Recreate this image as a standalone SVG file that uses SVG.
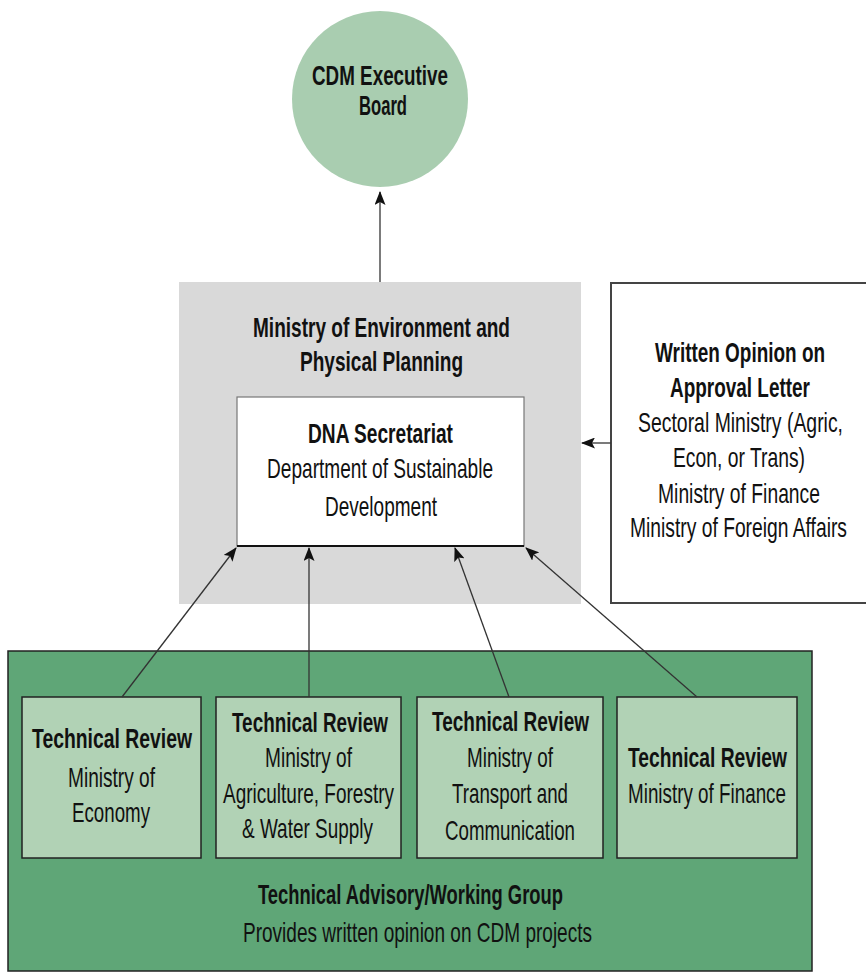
<svg xmlns="http://www.w3.org/2000/svg" width="866" height="974" viewBox="0 0 866 974">
<defs>
<marker id="ah" viewBox="0 0 14 11" refX="13" refY="5.5" markerWidth="14" markerHeight="11" markerUnits="userSpaceOnUse" orient="auto">
<path d="M0,0 L14,5.5 L0,11 L3,5.5 Z" fill="#111"/>
</marker>
<style>
text{font-family:"Liberation Sans",Arial,sans-serif;font-size:28px;fill:#111;text-anchor:middle}
.b{font-weight:bold}
.conn{stroke:#333;stroke-width:1.3;fill:none;marker-end:url(#ah)}
.tr{fill:#B1D2B5;stroke:#222;stroke-width:1.5}
</style>
</defs>
<rect width="866" height="974" fill="#fff"/>

<g id="cdm-board">
<circle cx="380" cy="99" r="88" fill="#A9CDB0"/>
<text class="b" transform="translate(380,0) scale(0.7,1)" x="0" y="85" textLength="194.3" lengthAdjust="spacingAndGlyphs">CDM Executive</text>
<text class="b" transform="translate(383,0) scale(0.7,1)" x="0" y="115" textLength="68.6" lengthAdjust="spacingAndGlyphs">Board</text>
</g>

<g id="ministry-env">
<rect x="179" y="282" width="402" height="322" fill="#D9D9D9"/>
<text class="b" transform="translate(381.5,0) scale(0.7,1)" x="0" y="337" textLength="367.1" lengthAdjust="spacingAndGlyphs">Ministry of Environment and</text>
<text class="b" transform="translate(381.5,0) scale(0.7,1)" x="0" y="371" textLength="232.9" lengthAdjust="spacingAndGlyphs">Physical Planning</text>
</g>

<g id="dna-secretariat">
<rect x="237" y="397" width="287" height="149" fill="#fff" stroke="#777" stroke-width="1.2"/>
<line x1="237" y1="546" x2="524" y2="546" stroke="#111" stroke-width="2"/>
<text class="b" transform="translate(380.5,0) scale(0.7,1)" x="0" y="443" textLength="207.1" lengthAdjust="spacingAndGlyphs">DNA Secretariat</text>
<text transform="translate(380,0) scale(0.7,1)" x="0" y="478" textLength="322.9" lengthAdjust="spacingAndGlyphs">Department of Sustainable</text>
<text transform="translate(381,0) scale(0.7,1)" x="0" y="516" textLength="160" lengthAdjust="spacingAndGlyphs">Development</text>
</g>

<g id="written-opinion">
<rect x="611" y="283" width="255" height="320" fill="#fff"/>
<path d="M866,283 H611 V603 H866" fill="none" stroke="#444" stroke-width="2"/>
<text class="b" transform="translate(740,0) scale(0.7,1)" x="0" y="362" textLength="242.9" lengthAdjust="spacingAndGlyphs">Written Opinion on</text>
<text class="b" transform="translate(740,0) scale(0.7,1)" x="0" y="397" textLength="200" lengthAdjust="spacingAndGlyphs">Approval Letter</text>
<text transform="translate(740.5,0) scale(0.7,1)" x="0" y="432" textLength="292.9" lengthAdjust="spacingAndGlyphs">Sectoral Ministry (Agric,</text>
<text transform="translate(739,0) scale(0.7,1)" x="0" y="467" textLength="188.6" lengthAdjust="spacingAndGlyphs">Econ, or Trans)</text>
<text transform="translate(739,0) scale(0.7,1)" x="0" y="503" textLength="231.4" lengthAdjust="spacingAndGlyphs">Ministry of Finance</text>
<text transform="translate(738.5,0) scale(0.7,1)" x="0" y="537" textLength="310" lengthAdjust="spacingAndGlyphs">Ministry of Foreign Affairs</text>
</g>

<g id="advisory-group">
<rect x="8" y="651" width="804" height="320" fill="#5FA677" stroke="#222" stroke-width="1.5"/>
<text class="b" transform="translate(410.5,0) scale(0.7,1)" x="0" y="904" textLength="435.7" lengthAdjust="spacingAndGlyphs">Technical Advisory/Working Group</text>
<text transform="translate(417.5,0) scale(0.7,1)" x="0" y="942" textLength="498.6" lengthAdjust="spacingAndGlyphs">Provides written opinion on CDM projects</text>
</g>

<g id="review-economy">
<rect class="tr" x="22" y="697" width="179" height="161"/>
<text class="b" transform="translate(112,0) scale(0.7,1)" x="0" y="748" textLength="228.6" lengthAdjust="spacingAndGlyphs">Technical Review</text>
<text transform="translate(111.5,0) scale(0.7,1)" x="0" y="787" textLength="124.3" lengthAdjust="spacingAndGlyphs">Ministry of</text>
<text transform="translate(111,0) scale(0.7,1)" x="0" y="822" textLength="111.4" lengthAdjust="spacingAndGlyphs">Economy</text>
</g>

<g id="review-agriculture">
<rect class="tr" x="216" y="697" width="185" height="161"/>
<text class="b" transform="translate(310,0) scale(0.7,1)" x="0" y="732" textLength="222.9" lengthAdjust="spacingAndGlyphs">Technical Review</text>
<text transform="translate(308.5,0) scale(0.7,1)" x="0" y="767" textLength="124.3" lengthAdjust="spacingAndGlyphs">Ministry of</text>
<text transform="translate(308.5,0) scale(0.7,1)" x="0" y="803" textLength="244.3" lengthAdjust="spacingAndGlyphs">Agriculture, Forestry</text>
<text transform="translate(307.5,0) scale(0.7,1)" x="0" y="838" textLength="187.1" lengthAdjust="spacingAndGlyphs">&amp; Water Supply</text>
</g>

<g id="review-transport">
<rect class="tr" x="417" y="697" width="186" height="161"/>
<text class="b" transform="translate(510.5,0) scale(0.7,1)" x="0" y="731" textLength="224.3" lengthAdjust="spacingAndGlyphs">Technical Review</text>
<text transform="translate(510,0) scale(0.7,1)" x="0" y="767" textLength="122.9" lengthAdjust="spacingAndGlyphs">Ministry of</text>
<text transform="translate(510,0) scale(0.7,1)" x="0" y="803" textLength="165.7" lengthAdjust="spacingAndGlyphs">Transport and</text>
<text transform="translate(510,0) scale(0.7,1)" x="0" y="840" textLength="185.7" lengthAdjust="spacingAndGlyphs">Communication</text>
</g>

<g id="review-finance">
<rect class="tr" x="617" y="697" width="180" height="161"/>
<text class="b" transform="translate(707.5,0) scale(0.7,1)" x="0" y="767" textLength="227.1" lengthAdjust="spacingAndGlyphs">Technical Review</text>
<text transform="translate(707,0) scale(0.7,1)" x="0" y="803" textLength="225.7" lengthAdjust="spacingAndGlyphs">Ministry of Finance</text>
</g>

<g id="connectors">
<line class="conn" x1="380" y1="282" x2="380" y2="192"/>
<line class="conn" x1="611" y1="443" x2="582" y2="443"/>
<line class="conn" x1="122" y1="697" x2="236" y2="548"/>
<line class="conn" x1="309" y1="697" x2="309" y2="548"/>
<line class="conn" x1="509" y1="697" x2="455" y2="548"/>
<line class="conn" x1="697" y1="697" x2="526" y2="548"/>
</g>
</svg>
